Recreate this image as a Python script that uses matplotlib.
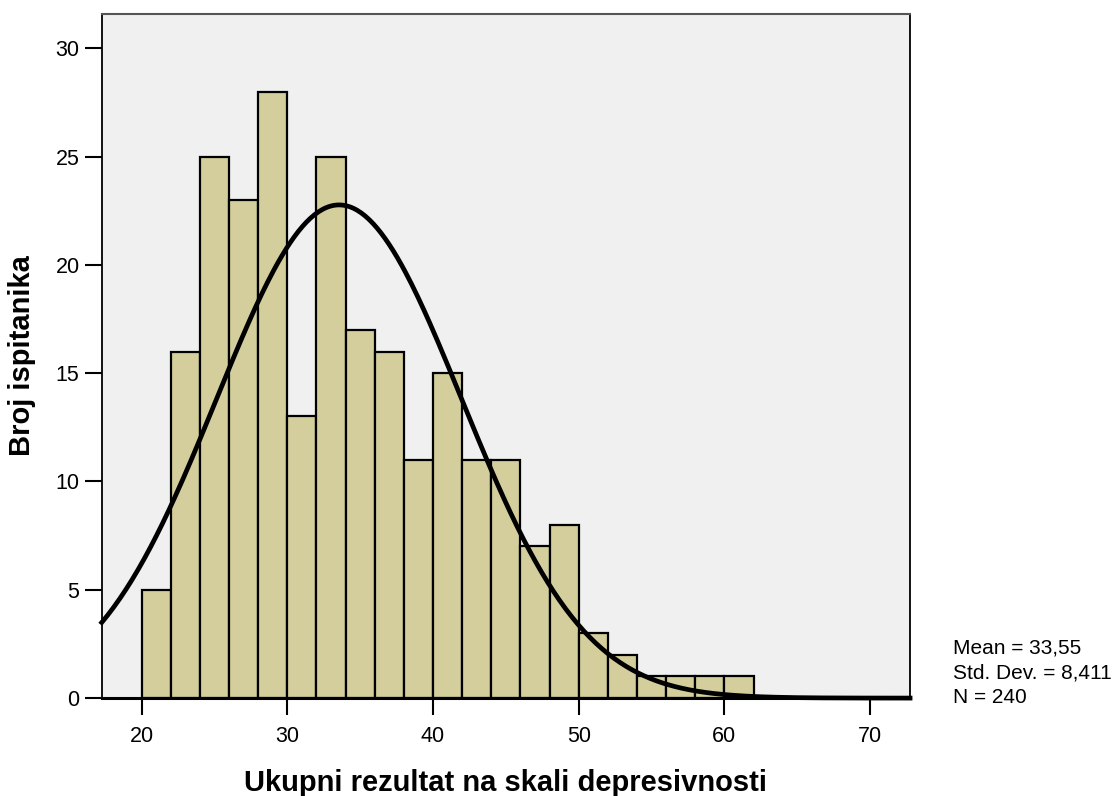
import numpy as np
import matplotlib.pyplot as plt

plt.rcParams['font.family'] = ['Liberation Sans', 'DejaVu Sans']

# bin edges and counts of the histogram
bin_edges = [20, 22, 24, 26, 28, 30, 32, 34, 36, 38, 40, 42, 44, 46, 48, 50,
             52, 54, 56, 58, 60, 62]
counts = [5, 16, 25, 23, 28, 13, 25, 17, 16, 11, 15, 11, 11, 7, 8, 3, 2,
          1, 1, 1, 1]
mean = 33.55
std = 8.411
n = 240

fig = plt.figure(figsize=(11.18, 7.96), dpi=100)
ax = fig.add_axes([0.091, 0.123, 0.723, 0.8594])
ax.set_facecolor('#f0f0f0')

widths = np.diff(bin_edges)
ax.bar(bin_edges[:-1], counts, width=widths, align='edge',
       color='#d3ce9b', edgecolor='black', linewidth=1.6, zorder=2)

# normal curve scaled to counts
xs = np.linspace(17.26, 72.74, 400)
bw = bin_edges[1] - bin_edges[0]
ys = n * bw / (std * np.sqrt(2 * np.pi)) * np.exp(-0.5 * ((xs - mean) / std) ** 2)
ax.plot(xs, ys, color='black', linewidth=3.4, zorder=3, clip_on=False)

ax.set_xlim(17.26, 72.74)
ax.set_ylim(0, 31.58)
ax.set_xticks([20, 30, 40, 50, 60, 70])
ax.set_yticks([0, 5, 10, 15, 20, 25, 30])
ax.tick_params(axis='both', length=12, width=1.5, labelsize=15.5, pad=4)
ax.tick_params(axis='x', pad=8)

for side in ['left', 'right']:
    ax.spines[side].set_linewidth(1.3)
ax.spines['bottom'].set_linewidth(2.2)
ax.spines['top'].set_color('#555555')
ax.spines['top'].set_linewidth(1.5)

ax.set_xlabel('Ukupni rezultat na skali depresivnosti', fontsize=21,
              fontweight='bold', labelpad=16)
ax.set_ylabel('Broj ispitanika', fontsize=21, fontweight='bold', labelpad=14)

mean_txt = f'{mean:.2f}'.replace('.', ',')
std_txt = f'{std:.3f}'.replace('.', ',')
fig.text(0.852, 0.1545, f'Mean = {mean_txt}\nStd. Dev. = {std_txt}\nN = {n}',
         fontsize=15, va='center', ha='left', linespacing=1.38)

fig.savefig('out.png', dpi=100)
